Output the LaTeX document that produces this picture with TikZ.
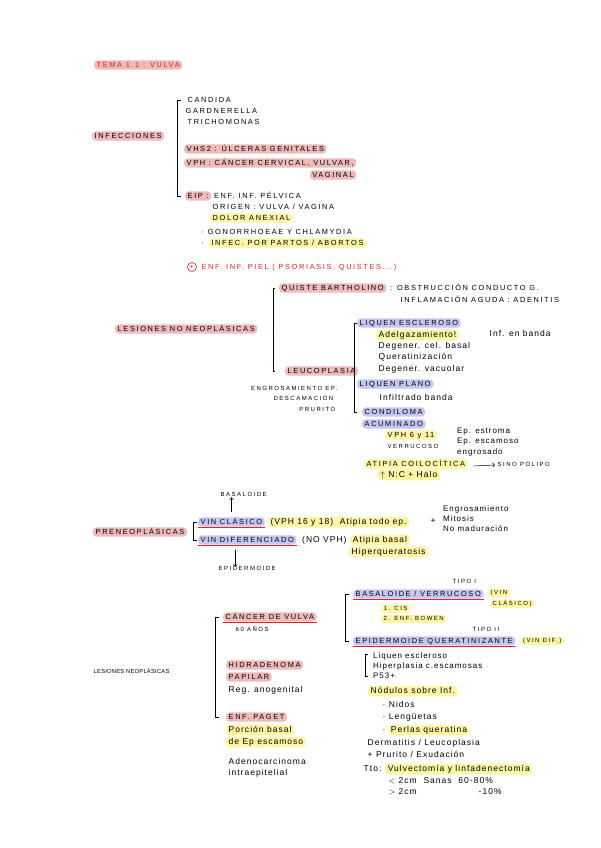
\documentclass[tikz,border=0pt]{standalone}
\usepackage{fontspec}
\setmainfont{Liberation Sans}
\newfontfamily\capsfam[LetterSpace=22]{Liberation Sans}
\newfontfamily\capswide[LetterSpace=25]{Liberation Sans}
\newfontfamily\capsnarrow[LetterSpace=4]{Liberation Sans}
\newfontfamily\handfam[LetterSpace=12]{Liberation Sans}
\usetikzlibrary{positioning,arrows.meta}
\definecolor{pinkhl}{RGB}{238,186,186}
\definecolor{yelhl}{RGB}{252,246,165}
\definecolor{lavhl}{RGB}{198,198,242}
\definecolor{inkred}{RGB}{222,38,38}
\tikzset{
  mayusbase/.style={anchor=west, inner xsep=2.5pt, inner ysep=1.2pt, rounded corners=3.5pt},
  mayus/.style={mayusbase, text height=5.8pt, text depth=1pt, font=\capsfam\fontsize{7.4}{9}\selectfont},
  mayussm/.style={mayusbase, text height=4.8pt, text depth=1pt, font=\capswide\fontsize{6}{10}\selectfont},
  mayusxs/.style={mayusbase, text height=4.8pt, text depth=1pt, font=\capsnarrow\fontsize{5.8}{10}\selectfont},
  hand/.style={anchor=west, inner xsep=2.5pt, inner ysep=1pt, rounded corners=3.5pt,
    text height=6.5pt, text depth=2pt, font=\handfam\fontsize{8.5}{10.5}\selectfont},
  handlist/.style={anchor=north west, align=left, inner sep=1pt, font=\handfam\fontsize{8}{10.2}\selectfont},
  pk/.style={fill=pinkhl}, yl/.style={fill=yelhl}, lv/.style={fill=lavhl},
  brak/.style={line width=0.6pt},
  redul/.style={draw=inkred, line width=0.9pt},
  arr/.style={-{Straight Barb[length=2pt]}, line width=0.5pt},
}
\begin{document}
\begin{tikzpicture}[x=1pt,y=-1pt]
\fill[white] (0,0) rectangle (600,848);
\useasboundingbox (0,0) rectangle (600,848);
% title
\node[mayus,pk,text=inkred] (tema) at (94,65) {TEMA 1.1 : VULVA};
% infecciones
\node[mayus,pk] (inf) at (92,136) {INFECCIONES};
\node[mayus] (candida) at (185,100) {CANDIDA};
\node[mayus] (gard) at (183,111) {GARDNERELLA};
\node[mayus] (trich) at (185,122) {TRICHOMONAS};
\node[mayus,pk] (vhs) at (184,149) {VHS2 : ÚLCERAS GENITALES};
\node[mayus,pk] (vph) at (184,163) {VPH : CÁNCER CERVICAL, VULVAR,};
\node[mayus,pk,anchor=east] (vag) at ([yshift=-12pt]vph.east) {VAGINAL};
\node[mayus,pk] (eip) at (185,196) {EIP :};
\node[mayus,right=0pt of eip] (eipt) {ENF. INF. PÉLVICA};
\node[mayus] (orig) at (210,207) {ORIGEN : VULVA / VAGINA};
\node[mayus,yl] (dolor) at (210,218) {DOLOR ANEXIAL};
\node[mayus] (gono) at (199,232) {·\ GONORRHOEAE Y CHLAMYDIA};
\node[mayus] (bul1) at (199,243) {·};
\node[mayus,yl,right=2pt of bul1] (partos) {INFEC. POR PARTOS / ABORTOS};
\draw[brak] ([xshift=-4pt]candida.west) -- ++(-4,0) |- ([xshift=-4pt]eip.west);
% piel
\node[circle,draw=inkred,text=inkred,inner sep=0pt,minimum size=9pt,line width=0.6pt,font=\fontsize{7}{7}\selectfont] (plus) at (192,267) {+};
\node[mayus,text=inkred,right=2pt of plus] (piel) {ENF. INF. PIEL ( PSORIASIS, QUISTES...)};
% lesiones no neoplasicas
\node[mayus,pk] (lnn) at (115,329) {LESIONES NO NEOPLÁSICAS};
\node[mayus,pk] (quiste) at (279,288) {QUISTE BARTHOLINO};
\node[mayus,right=1pt of quiste] (obst) {: OBSTRUCCIÓN CONDUCTO G.};
\node[mayus] (infl) at (398,300) {INFLAMACIÓN AGUDA : ADENITIS};
\node[mayus,pk] (leuco) at (285,371) {LEUCOPLASIA};
\node[mayussm,anchor=east] (engep) at (340,389) {ENGROSAMIENTO EP.};
\node[mayussm,anchor=east] (desc) at (336,399) {DESCAMACIÓN};
\node[mayussm,anchor=east] (prur1) at (338,410) {PRURITO};
\draw[brak] ([xshift=-4pt]quiste.west) -- ++(-2,0) |- ([xshift=-10pt]leuco.west);
\node[mayus,lv] (liqesc) at (357,323) {LIQUEN ESCLEROSO};
\node[hand,yl] (adelg) at (376,335) {Adelgazamiento!};
\node[hand] (degb) at (376,346) {Degener. cel. basal};
\node[hand] (querat) at (376,357) {Queratinización};
\node[hand] (degv) at (376,369) {Degener. vacuolar};
\node[hand] (infb) at (487,334) {Inf. en banda};
\node[mayus,lv] (liqpl) at (357,384) {LIQUEN PLANO};
\node[hand] (infil) at (377,398) {Infiltrado banda};
\node[mayus,lv] (cond) at (362,412) {CONDILOMA};
\node[mayus,lv] (acum) at (362,424) {ACUMINADO};
\draw[brak] ([xshift=0pt]liqesc.west) -- ++(-3,0) |- ([xshift=-5pt]cond.west);
\node[mayus,yl] (vph611) at (385,435) {VPH 6 y 11};
\node[mayussm] (verruc) at (385,447) {VERRUCOSO};
\node[handlist] (epest) at (456,427) {Ep. estroma\\Ep. escamoso\\engrosado};
\node[mayus,yl] (coilo) at (364,464) {ATIPIA COILOCÍTICA};
\node[hand,yl] (halo) at (378,475) {$\uparrow$ N:C + Halo};
\node[mayussm] (sino) at (495,465) {SINO PÓLIPO};
\draw[arr] ([xshift=6pt,yshift=-2pt]coilo.east) -- (sino.west);
% preneoplasicas
\node[mayus,pk] (pre) at (93,532) {PRENEOPLÁSICAS};
\node[mayussm] (basal) at (218,495) {BASALOIDE};
\node[mayus,lv] (vincl) at (198,522) {VIN CLÁSICO};
\node[hand,yl,right=3pt of vincl] (vincl2) {(VPH 16 y 18) \ Atipia todo ep.};
\node[hand] (plus2) at (428,521) {+};
\node[handlist] (engr) at (442,504) {Engrosamiento\\Mitosis\\No maduración};
\node[mayus,lv] (vindif) at (198,540) {VIN DIFERENCIADO};
\node[hand,right=3pt of vindif] (novph) {(NO VPH)};
\node[hand,yl,right=1pt of novph] (atb) {Atipia basal};
\node[hand,yl] (hiperq) at (349,552) {Hiperqueratosis};
\node[mayussm] (epid) at (216,569) {EPIDERMOIDE};
\draw[redul] ([yshift=-1pt]vincl.south west) -- ([yshift=-1pt]vincl.south east);
\draw[redul] ([yshift=-1pt]vindif.south west) -- ([yshift=-1pt]vindif.south east);
\draw[arr] ([yshift=5pt]vincl.north) -- ([yshift=2pt]vincl.north |- basal.south);
\draw[arr] ([xshift=-12pt,yshift=-5pt]vindif.south) -- ([xshift=-12pt,yshift=-2pt]vindif.south |- epid.north);
\draw[brak] ([xshift=-1pt]vincl.west) -- ++(-4,0) |- ([xshift=-1pt]vindif.west);
% lesiones neoplasicas
\node[mayusxs] (ln) at (91,672) {LESIONES NEOPLÁSICAS};
\node[mayus,pk] (cvulva) at (223,617) {CÁNCER DE VULVA};
\node[mayussm] (anos) at (233,630) {60 AÑOS};
\node[mayus,pk] (hidra) at (226,665) {HIDRADENOMA};
\node[mayus,pk] (papilar) at (226,677) {PAPILAR};
\node[hand] (anog) at (226,690) {Reg. anogenital};
\node[mayus,pk] (paget) at (226,717) {ENF. PAGET};
\node[hand,yl] (porc) at (226,730) {Porción basal};
\node[hand,yl] (deep) at (226,742) {de Ep escamoso};
\node[hand] (adeno) at (226,762) {Adenocarcinoma};
\node[hand] (intra) at (226,773) {intraepitelial};
\draw[redul] ([yshift=-1pt]cvulva.south west) -- ([yshift=-1pt]cvulva.south east);
\draw[brak] ([xshift=-4pt]cvulva.west) -- ++(-4,0) |- ([xshift=-7pt]paget.west);
\node[mayussm] (tipo1) at (450,582) {TIPO I};
\node[mayus,lv] (basver) at (353,594) {BASALOIDE / VERRUCOSO};
\node[mayussm,yl] (vincl3) at (488,593) {(VIN};
\node[mayussm,yl] (vincl4) at (490,604) {CLÁSICO)};
\node[mayussm,yl] (cis) at (381,609) {1. CIS};
\node[mayussm,yl] (bowen) at (381,619) {2. ENF. BOWEN};
\node[mayussm] (tipo2) at (470,630) {TIPO II};
\node[mayus,lv] (epq) at (353,641) {EPIDERMOIDE QUERATINIZANTE};
\node[mayussm,yl,right=5pt of epq] (vindif2) {(VIN DIF.)};
\draw[redul] ([yshift=-1pt]basver.south west) -- ([yshift=-1pt]basver.south east);
\draw[redul] ([yshift=-1pt]epq.south west) -- ([yshift=-1pt]epq.south east);
\draw[brak] ([xshift=-4pt]basver.west) -- ++(-4,0) |- ([xshift=-4pt]epq.west);
\node[handlist] (liq2) at (372,651) {Liquen escleroso\\Hiperplasia c.escamosas\\P53+};
\draw[brak] ([xshift=-4pt,yshift=-3pt]liq2.north west) -- ++(-3,0) |- ([xshift=-4pt,yshift=3pt]liq2.south west);
\node[hand,yl] (nod) at (368,691) {Nódulos sobre Inf.};
\node[hand] (nidos) at (380,705) {· Nidos};
\node[hand] (leng) at (380,717) {· Lengüetas};
\node[hand] (bul3) at (380,730) {·};
\node[hand,yl,right=0pt of bul3] (perlas) {Perlas queratina};
\node[hand] (derm) at (365,743) {Dermatitis / Leucoplasia};
\node[hand] (prur) at (365,755) {+ Prurito / Exudación};
\node[hand] (tto) at (361,769) {Tto:};
\node[hand,yl,right=1pt of tto] (vulvec) {Vulvectomía y linfadenectomía};
\node[hand] (menor) at (386,781) {$<$ 2cm \ Sanas \ 60-80\%};
\node[hand] (mayor) at (386,792) {$>$ 2cm};
\node[hand] (diez) at (476,792) {-10\%};
\end{tikzpicture}
\end{document}
